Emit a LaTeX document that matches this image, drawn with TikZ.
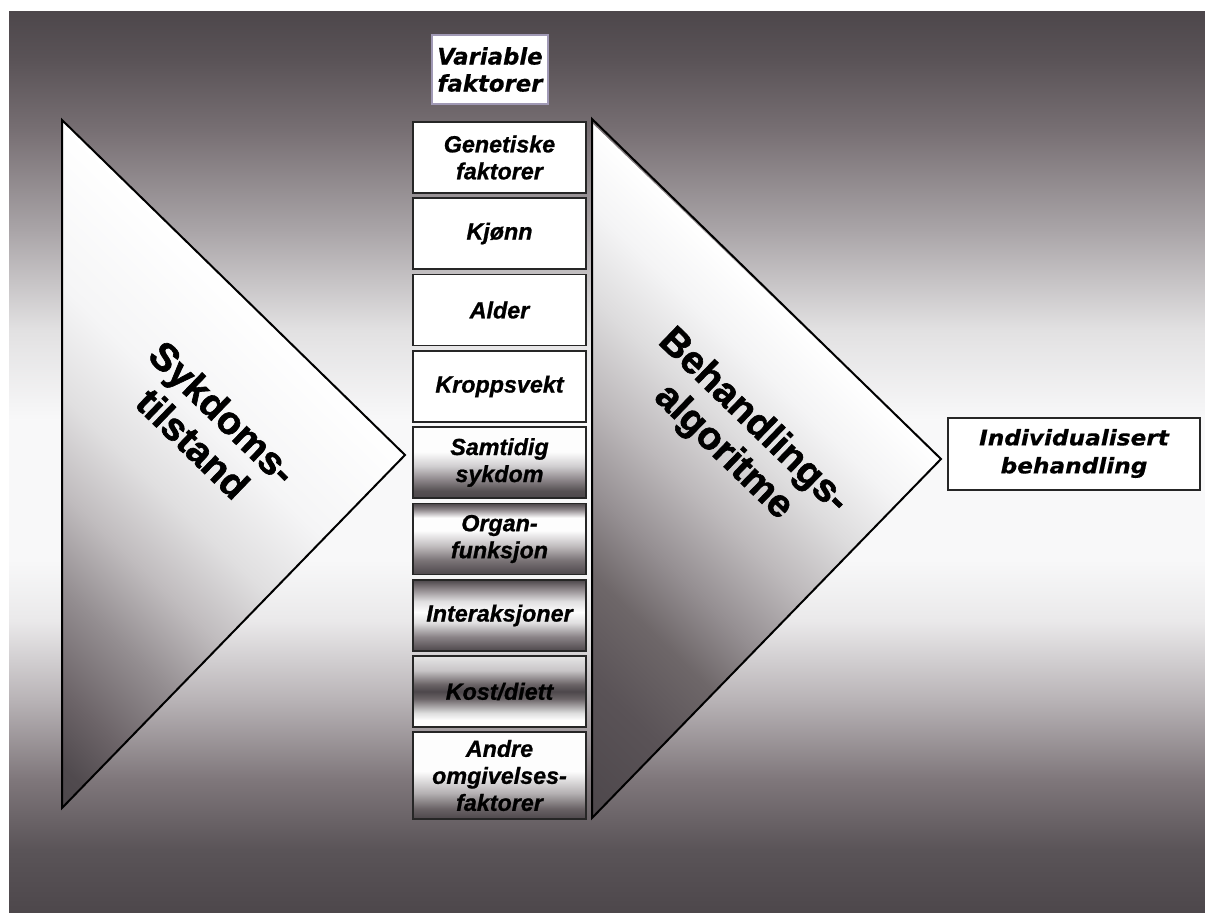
\documentclass[tikz,border=0pt]{standalone}
\usepackage{fontspec}
\newfontfamily\boxfont{Liberation Sans}[BoldItalicFeatures={FakeBold=0.9}]
\newfontfamily\bigfont{Liberation Sans}[BoldFeatures={FakeBold=1.6}]
\newfontfamily\headfont{DejaVu Sans}[BoldItalicFeatures={FakeBold=0.5}]
\newfontfamily\indfont{DejaVu Sans}[BoldItalicFeatures={FakeStretch=1.08,FakeBold=0.5}]
\definecolor{dk}{HTML}{4D474B}
\definecolor{bgA}{HTML}{5A5357}
\definecolor{bgB}{HTML}{776F73}
\definecolor{bgC}{HTML}{A9A4A7}
\definecolor{bgD}{HTML}{E2E1E2}
\definecolor{bgE}{HTML}{F8F8F9}
\definecolor{bgF}{HTML}{EAE9EA}
\definecolor{bgG}{HTML}{B8B3B6}
\definecolor{bgH}{HTML}{7F777B}
\definecolor{bgI}{HTML}{5A5458}
\definecolor{wh}{HTML}{FDFDFD}
\definecolor{triA}{HTML}{504A4E}
\definecolor{triB}{HTML}{6C6468}
\definecolor{triC}{HTML}{948E91}
\definecolor{triD}{HTML}{C0BCBE}
\definecolor{triE}{HTML}{E0DFE0}
\definecolor{triF}{HTML}{F5F5F6}
\definecolor{trrA}{HTML}{5A5357}
\definecolor{trrB}{HTML}{6E6769}
\definecolor{trrC}{HTML}{958F92}
\definecolor{trrD}{HTML}{BDB9BB}
\definecolor{trrE}{HTML}{DDDCDD}
\definecolor{trrF}{HTML}{F4F4F5}
\definecolor{mA}{HTML}{555052}
\definecolor{mB}{HTML}{8A8387}
\definecolor{mC}{HTML}{D0CED0}
\definecolor{mD}{HTML}{C0BCBE}
\definecolor{mE}{HTML}{7A7376}
\definecolor{mF}{HTML}{E0DFE0}
\definecolor{mG}{HTML}{E6E6E6}
\definecolor{mH}{HTML}{C8C5C7}
\definecolor{mI}{HTML}{6A6366}
\definecolor{mJ}{HTML}{DCDCDC}
\definecolor{mK}{HTML}{B5B1B3}
\definecolor{framec}{HTML}{A099B5}

\pgfdeclareverticalshading{bgshade}{100bp}{color(0bp)=(dk); color(25bp)=(dk); color(28.5bp)=(bgI); color(32.4bp)=(bgH); color(36.8bp)=(bgG); color(41.2bp)=(bgF); color(44.6bp)=(bgE); color(52.3bp)=(bgE); color(57.3bp)=(bgD); color(62.9bp)=(bgC); color(68.4bp)=(bgB); color(72.3bp)=(bgA); color(75bp)=(dk); color(100bp)=(dk)}
\pgfdeclareverticalshading{trishade}{100bp}{color(0bp)=(dk); color(25bp)=(dk); color(28bp)=(triA); color(33.5bp)=(triB); color(41bp)=(triC); color(48bp)=(triD); color(55bp)=(triE); color(63bp)=(triF); color(75bp)=(white); color(100bp)=(white)}
\pgfdeclareverticalshading{trrshade}{100bp}{color(0bp)=(dk); color(25bp)=(dk); color(35bp)=(trrA); color(42.5bp)=(trrB); color(48.5bp)=(trrC); color(55.5bp)=(trrD); color(62.5bp)=(trrE); color(69bp)=(trrF); color(75bp)=(white); color(100bp)=(white)}
\pgfdeclareverticalshading{shA}{100bp}{color(0bp)=(dk); color(25bp)=(dk); color(30bp)=(mA); color(37.5bp)=(mB); color(47.5bp)=(mC); color(57.5bp)=(wh); color(75bp)=(wh); color(100bp)=(wh)}
\pgfdeclareverticalshading{shB}{100bp}{color(0bp)=(dk); color(25bp)=(dk); color(35bp)=(mE); color(45bp)=(mD); color(56bp)=(wh); color(65bp)=(wh); color(71bp)=(mB); color(75bp)=(dk); color(100bp)=(dk)}
\pgfdeclareverticalshading{shC}{100bp}{color(0bp)=(dk); color(25bp)=(dk); color(35bp)=(mB); color(45bp)=(mF); color(52.5bp)=(wh); color(60bp)=(mF); color(69bp)=(mB); color(75bp)=(dk); color(100bp)=(dk)}
\pgfdeclareverticalshading{shD}{100bp}{color(0bp)=(wh); color(25bp)=(wh); color(30bp)=(wh); color(35bp)=(mJ); color(45bp)=(mI); color(50bp)=(dk); color(55bp)=(mI); color(65bp)=(mH); color(75bp)=(mG); color(100bp)=(mG)}
\pgfdeclareverticalshading{shE}{100bp}{color(0bp)=(dk); color(25bp)=(dk); color(31bp)=(mI); color(40bp)=(mK); color(52.5bp)=(wh); color(75bp)=(wh); color(100bp)=(wh)}

\begin{document}
\begin{tikzpicture}[x=1pt,y=-1pt,
  fbox/.style={draw=black!85, line width=1.6pt, minimum width=173pt, minimum height=71pt,
    inner sep=0pt, align=center, font=\boxfont\bfseries\itshape\fontsize{23.3}{27}\selectfont},
  whitebox/.style={fbox, fill=white},
  metalbox/.style={fbox, shade, shading=#1},
  tri/.style={draw=black, line width=2pt, line join=miter},
  bigtext/.style={font=\bigfont\bfseries\fontsize{39}{43}\selectfont, align=center,
    rotate=-44, inner sep=0pt},
  headbox/.style={fill=white, inner sep=0pt, align=center}
]
\useasboundingbox (0,0) rectangle (1205,913);
\fill[white] (0,0) rectangle (1205,913);
\shade[shading=bgshade] (9,11) rectangle (1205,913);

% left triangle
\coordinate (lT) at (62,120);
\coordinate (lR) at (405,455);
\coordinate (lB) at (62,808);
\begin{scope}
  \clip (lT) -- (lR) -- (lB) -- cycle;
  \begin{scope}[transform canvas={rotate around={-44:(lB)}}]
    \shade[shading=trishade] (-738,313) rectangle (862,808);
  \end{scope}
\end{scope}
\draw[tri] (lT) -- (lR) -- (lB) -- cycle;

% right triangle
\coordinate (rT) at (592,119);
\coordinate (rR) at (941,459);
\coordinate (rB) at (592,818);
\begin{scope}
  \clip (rT) -- (rR) -- (rB) -- cycle;
  \begin{scope}[transform canvas={rotate around={-44:(rB)}}]
    \shade[shading=trrshade] (-208,318) rectangle (1392,818);
  \end{scope}
\end{scope}
\draw[tri] (rT) -- (rR) -- (rB) -- cycle;

\node[bigtext] (sykd) at (208,428) {Sykdoms-\\tilstand};
\node[bigtext] (beh) at (738,437) {Behandlings-\\algoritme};

% header
\node[headbox, draw=framec, line width=1.2pt, minimum width=116pt, minimum height=69pt,
  font=\headfont\bfseries\itshape\fontsize{22.8}{27}\selectfont]
  (var) at (490,69.5) {Variable\\faktorer};

% factor boxes
\node[whitebox] (g1) at (499.5,157.5) {Genetiske\\faktorer};
\node[whitebox] (g2) at (499.5,233.5) {Kjønn};
\node[whitebox] (g3) at (499.5,310) {Alder};
\node[whitebox] (g4) at (499.5,386.5) {Kroppsvekt};
\node[metalbox=shA] (g5) at (499.5,462.5) {Samtidig\\sykdom};
\node[metalbox=shB] (g6) at (499.5,539) {Organ-\\funksjon};
\node[metalbox=shC] (g7) at (499.5,615.5) {Interaksjoner};
\node[metalbox=shD] (g8) at (499.5,691.5) {Kost/diett};
\node[metalbox=shE, minimum height=87pt] (g9) at (499.5,775.5) {Andre\\omgivelses-\\faktorer};

% result
\node[headbox, draw=black!85, line width=2pt, minimum width=252pt, minimum height=72pt,
  font=\indfont\bfseries\itshape\fontsize{21.5}{28}\selectfont]
  (ind) at (1074,453.5) {Individualisert\\behandling};
\end{tikzpicture}
\end{document}
